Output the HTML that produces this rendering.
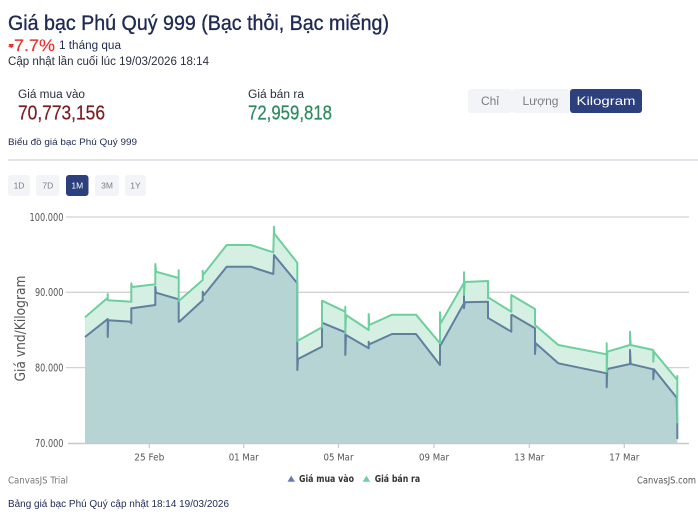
<!DOCTYPE html>
<html><head><meta charset="utf-8"><style>
html,body{margin:0;padding:0;background:#fff;width:698px;height:519px;overflow:hidden}
svg{display:block}
</style></head><body>
<svg xmlns="http://www.w3.org/2000/svg" width="698" height="519" viewBox="0 0 698 519" font-family="'Liberation Sans', sans-serif">
<rect width="698" height="519" fill="#fff"/>
<!-- header -->
<text x="8" y="30" font-size="21" fill="#1e2a52" stroke="#1e2a52" stroke-width="0.35" textLength="381" lengthAdjust="spacingAndGlyphs">Giá bạc Phú Quý 999 (Bạc thỏi, Bạc miếng)</text>
<polygon points="8.5,44 14,44 11.2,48.5" fill="#e8322b"/>
<text x="8" y="51" font-size="17" fill="#e8322b" stroke="#e8322b" stroke-width="0.2" textLength="47" lengthAdjust="spacingAndGlyphs">-7.7%</text>
<text x="59" y="49" font-size="11.5" fill="#1e2a52" textLength="62" lengthAdjust="spacingAndGlyphs">1 tháng qua</text>
<text x="8" y="65" font-size="11.5" fill="#2a2f3d" textLength="201" lengthAdjust="spacingAndGlyphs">Cập nhật lần cuối lúc 19/03/2026 18:14</text>
<text x="18" y="98" font-size="11.5" fill="#2a2f3d" textLength="67" lengthAdjust="spacingAndGlyphs">Giá mua vào</text>
<text x="18" y="119.5" font-size="20" fill="#7a1f24" stroke="#7a1f24" stroke-width="0.25" textLength="87" lengthAdjust="spacingAndGlyphs">70,773,156</text>
<text x="248" y="98" font-size="11.5" fill="#2a2f3d" textLength="56" lengthAdjust="spacingAndGlyphs">Giá bán ra</text>
<text x="248" y="119.5" font-size="20" fill="#2f8a5e" stroke="#2f8a5e" stroke-width="0.25" textLength="84" lengthAdjust="spacingAndGlyphs">72,959,818</text>
<text x="8" y="145" font-size="9.5" fill="#1e2a52" textLength="129" lengthAdjust="spacingAndGlyphs">Biểu đồ giá bạc Phú Quý 999</text>
<!-- unit buttons -->
<rect x="468" y="89" width="44" height="24" rx="3" fill="#f3f4f7"/>
<rect x="512" y="89" width="58" height="24" rx="3" fill="#f3f4f7"/>
<rect x="570" y="89" width="72" height="24" rx="3" fill="#2b407c"/>
<text x="490" y="105" font-size="12" fill="#7a7d85" text-anchor="middle">Chỉ</text>
<text x="540.5" y="105" font-size="12" fill="#7a7d85" text-anchor="middle">Lượng</text>
<text x="606" y="105" font-size="12" fill="#ffffff" text-anchor="middle" textLength="59" lengthAdjust="spacingAndGlyphs">Kilogram</text>
<!-- divider -->
<rect x="8" y="159" width="690" height="2" fill="#e3e4ea"/>
<!-- period buttons -->
<rect x="8" y="175" width="22" height="21" rx="3" fill="#f3f4f7"/>
<rect x="36" y="175" width="23.5" height="21" rx="3" fill="#f3f4f7"/>
<rect x="66" y="175" width="22.5" height="21" rx="3" fill="#2b407c"/>
<rect x="95" y="175" width="24" height="21" rx="3" fill="#f3f4f7"/>
<rect x="125" y="175" width="21" height="21" rx="3" fill="#f3f4f7"/>
<g font-size="8.5" text-anchor="middle">
<text x="19" y="188.5" fill="#7a7d85">1D</text>
<text x="47.8" y="188.5" fill="#7a7d85">7D</text>
<text x="77.3" y="188.5" fill="#ffffff">1M</text>
<text x="107" y="188.5" fill="#7a7d85">3M</text>
<text x="135.5" y="188.5" fill="#7a7d85">1Y</text>
</g>
<!-- grid -->
<g stroke="#d2d2d2" stroke-width="1.3">
<line x1="66" y1="217" x2="689" y2="217"/>
<line x1="66" y1="292.3" x2="689" y2="292.3"/>
<line x1="66" y1="367.6" x2="689" y2="367.6"/>
</g>
<!-- areas -->
<polygon fill="#d5efe2" points="85,317.3 107.7,297.7 107.7,294 107.7,300.3 131.3,301.7 131.3,283.3 132,287 155.3,284.3 155.3,264 156,271.7 178.7,278 178.7,270.3 178.7,301 202.7,280 202.7,270.7 203,275 226.7,245 250.7,245 273.3,252.3 274,226.7 274,233.3 297.3,262.7 297.3,341 322,327.3 322,300.7 345.3,311.7 345.3,306.7 345.3,333.3 346,315 368.7,330 368.7,314 369.3,325 392,314.7 416,314.7 440,343.3 440,312.3 440.7,323.3 464,282.7 464,272.3 464,295 464.7,282 488,281 488,298.3 488.7,297.7 511.3,311.7 511.3,295 535,309 535,325 558.3,345 606.7,354.3 606.7,343.3 606.7,371.7 607.3,351.7 630,345 630,331.7 630.7,345 653.3,350 653.3,361.7 654,351.7 677.3,380 677.3,376 677.3,423.3 677.3,443 85,443"/>
<polygon fill="#b5d4d3" points="85,337 107.7,319 107.7,337 108.3,320.3 131.3,321.7 131.3,323.3 131.3,308.3 132,308.3 155.3,305 155.3,286.7 156,292.7 178.7,299.3 178.7,321.7 179.3,321.7 202.7,300.3 202.7,291.7 204,295 226.7,266.7 250.7,266.7 273.3,274 274,255 297.3,283.3 297.3,370 298,359 322,346.7 322,322.7 345.3,332.3 345.3,355 346,335 368.7,348.3 368.7,341.7 369.3,344.3 392,334 416,334 440,365 440,343.3 440.7,345 464,303.3 464,295 464,308.3 464.7,302.3 488,301.7 488,318.3 488.7,318.3 511.3,331.7 511.3,315 512.3,315 535,328.3 535,354 535.7,343.3 558.3,363.3 606.7,373.3 606.7,387.3 607.3,369 630,364 630,350 630.7,364 653.3,369.3 653.3,379.3 654,369.3 676.7,397.7 677.3,423.3 677.3,443 85,443"/>
<!-- lines -->
<polyline fill="none" stroke="#617f9f" stroke-width="2" stroke-linejoin="round" points="85,337 107.7,319 107.7,337 108.3,320.3 131.3,321.7 131.3,323.3 131.3,308.3 132,308.3 155.3,305 155.3,286.7 156,292.7 178.7,299.3 178.7,321.7 179.3,321.7 202.7,300.3 202.7,291.7 204,295 226.7,266.7 250.7,266.7 273.3,274 274,255 297.3,283.3 297.3,370 298,359 322,346.7 322,322.7 345.3,332.3 345.3,355 346,335 368.7,348.3 368.7,341.7 369.3,344.3 392,334 416,334 440,365 440,343.3 440.7,345 464,303.3 464,295 464,308.3 464.7,302.3 488,301.7 488,318.3 488.7,318.3 511.3,331.7 511.3,315 512.3,315 535,328.3 535,354 535.7,343.3 558.3,363.3 606.7,373.3 606.7,387.3 607.3,369 630,364 630,350 630.7,364 653.3,369.3 653.3,379.3 654,369.3 676.7,397.7 677.3,423.3 677.3,439"/>
<polyline fill="none" stroke="#6dcf9e" stroke-width="2" stroke-linejoin="round" points="85,317.3 107.7,297.7 107.7,294 107.7,300.3 131.3,301.7 131.3,283.3 132,287 155.3,284.3 155.3,264 156,271.7 178.7,278 178.7,270.3 178.7,301 202.7,280 202.7,270.7 203,275 226.7,245 250.7,245 273.3,252.3 274,226.7 274,233.3 297.3,262.7 297.3,341 322,327.3 322,300.7 345.3,311.7 345.3,306.7 345.3,333.3 346,315 368.7,330 368.7,314 369.3,325 392,314.7 416,314.7 440,343.3 440,312.3 440.7,323.3 464,282.7 464,272.3 464,295 464.7,282 488,281 488,298.3 488.7,297.7 511.3,311.7 511.3,295 535,309 535,325 558.3,345 606.7,354.3 606.7,343.3 606.7,371.7 607.3,351.7 630,345 630,331.7 630.7,345 653.3,350 653.3,361.7 654,351.7 677.3,380 677.3,376 677.3,423.3"/>
<!-- x axis -->
<line x1="68" y1="443.5" x2="689" y2="443.5" stroke="#c8c8c8" stroke-width="1.5"/>
<g stroke="#c8c8c8" stroke-width="1.2">
<line x1="149.3" y1="443" x2="149.3" y2="448"/>
<line x1="243.7" y1="443" x2="243.7" y2="448"/>
<line x1="338.5" y1="443" x2="338.5" y2="448"/>
<line x1="434" y1="443" x2="434" y2="448"/>
<line x1="529.3" y1="443" x2="529.3" y2="448"/>
<line x1="624.3" y1="443" x2="624.3" y2="448"/>
</g>
<g font-family="'DejaVu Sans', sans-serif" font-size="10" fill="#555" text-anchor="middle">
<text x="149.3" y="460.5" textLength="30" lengthAdjust="spacingAndGlyphs">25 Feb</text>
<text x="243.7" y="460.5" textLength="30" lengthAdjust="spacingAndGlyphs">01 Mar</text>
<text x="338.5" y="460.5" textLength="30" lengthAdjust="spacingAndGlyphs">05 Mar</text>
<text x="434" y="460.5" textLength="30" lengthAdjust="spacingAndGlyphs">09 Mar</text>
<text x="529.3" y="460.5" textLength="30" lengthAdjust="spacingAndGlyphs">13 Mar</text>
<text x="624.3" y="460.5" textLength="30" lengthAdjust="spacingAndGlyphs">17 Mar</text>
</g>
<g font-family="'DejaVu Sans', sans-serif" font-size="10.5" fill="#555" text-anchor="end">
<text x="63.5" y="220.8" textLength="34" lengthAdjust="spacingAndGlyphs">100.000</text>
<text x="63.5" y="296.2" textLength="28.5" lengthAdjust="spacingAndGlyphs">90.000</text>
<text x="63.5" y="371.5" textLength="28.5" lengthAdjust="spacingAndGlyphs">80.000</text>
<text x="63.5" y="446.8" textLength="28.5" lengthAdjust="spacingAndGlyphs">70.000</text>
</g>
<text transform="translate(25,328.5) rotate(-90)" font-family="'DejaVu Sans', sans-serif" font-size="14" fill="#555" text-anchor="middle" textLength="106" lengthAdjust="spacingAndGlyphs">Giá vnd/Kilogram</text>
<!-- legend -->
<polygon points="287.5,481.8 291.2,475.6 295,481.8" fill="#6b78b1"/>
<text x="299" y="482" font-family="'DejaVu Sans', sans-serif" font-size="10" font-weight="bold" fill="#333" textLength="55" lengthAdjust="spacingAndGlyphs">Giá mua vào</text>
<polygon points="362.7,481.8 366.4,475.6 370.2,481.8" fill="#6dcf9e"/>
<text x="374.7" y="482" font-family="'DejaVu Sans', sans-serif" font-size="10" font-weight="bold" fill="#333" textLength="45.5" lengthAdjust="spacingAndGlyphs">Giá bán ra</text>
<text x="8" y="483.5" font-family="'DejaVu Sans', sans-serif" font-size="9.5" fill="#777" textLength="60" lengthAdjust="spacingAndGlyphs">CanvasJS Trial</text>
<text x="696" y="483.5" font-family="'DejaVu Sans', sans-serif" font-size="10" fill="#555" text-anchor="end" textLength="59" lengthAdjust="spacingAndGlyphs">CanvasJS.com</text>
<text x="8" y="507" font-size="9.8" fill="#1e2a52" textLength="221" lengthAdjust="spacingAndGlyphs">Bảng giá bạc Phú Quý cập nhật 18:14 19/03/2026</text>
</svg>
</body></html>
